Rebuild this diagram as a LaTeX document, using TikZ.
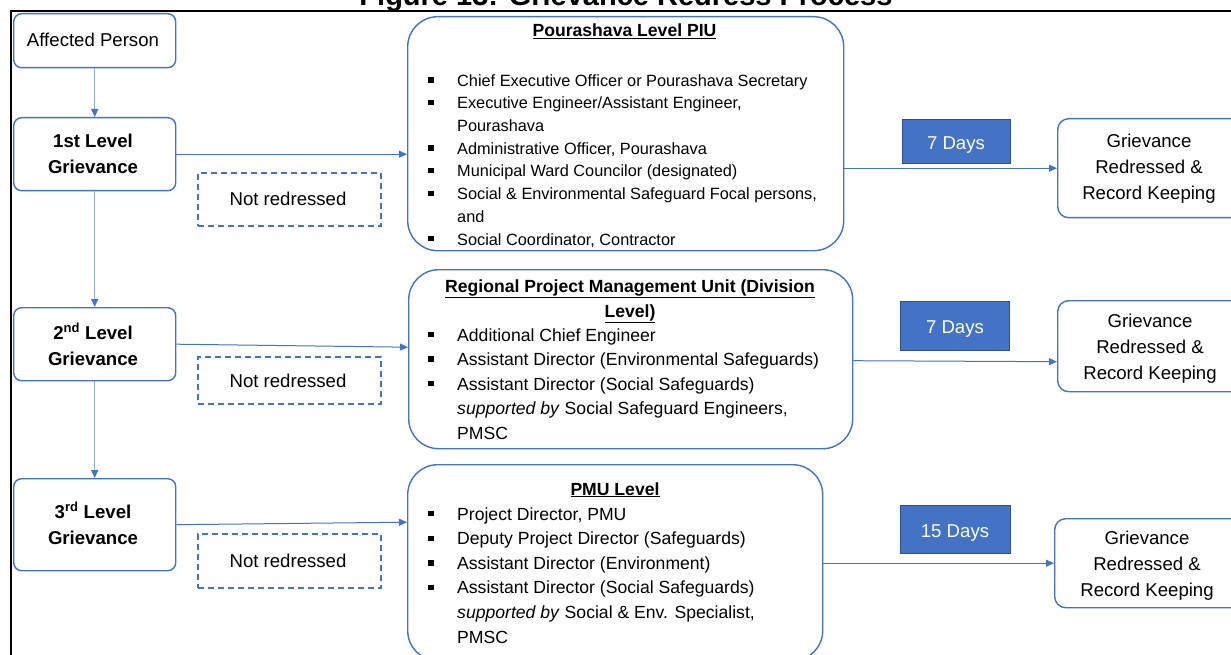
\documentclass[tikz,border=0pt]{standalone}
\usepackage{fontspec}
\setmainfont{Liberation Sans}
\usetikzlibrary{arrows.meta,calc}
\definecolor{bblue}{HTML}{4472C4}
\definecolor{lblue}{HTML}{8FAADC}
\definecolor{dblue}{HTML}{2F528F}
\newcommand\bul{\makebox[29pt][l]{\rule[3.6pt]{5.5pt}{5.5pt}}}
\newcommand\ind{\hspace*{29pt}}
\newcommand\nf{\fontsize{18.6}{26}\selectfont}
\newcommand\tf{\bfseries\fontsize{17.6}{25}\selectfont}
\begin{document}
\begin{tikzpicture}[x=1pt,y=-1pt,
  box/.style={draw=bblue, line width=1.4pt, rounded corners=8pt, inner sep=0pt, anchor=north west},
  bigbox/.style={draw=bblue, line width=1.4pt, rounded corners=30pt, inner sep=0pt, anchor=north west},
  rbox/.style={draw=bblue, line width=1.4pt, rounded corners=11pt, inner sep=0pt, anchor=north west},
  nrbox/.style={draw=bblue, line width=1.8pt, dash pattern=on 6pt off 4pt, inner sep=0pt, anchor=north west},
  daybox/.style={draw=dblue, fill=bblue, line width=0.8pt, inner sep=0pt, anchor=north west},
  txt/.style={anchor=base, inner sep=0pt, font=\nf, align=center},
  list/.style={anchor=base west, inner sep=0pt, align=left},
  vline/.style={draw=lblue, line width=1.3pt, -{Triangle[length=8pt,width=7pt,color=bblue]}},
  hline/.style={draw=bblue, line width=1pt, -{Triangle[length=8pt,width=7pt,color=bblue]}}
]
\useasboundingbox (0,0) rectangle (1231,655);
\clip (0,0) rectangle (1231,655);
\fill[white] (0,0) rectangle (1231,655);

% title (cut off at top)
\node[anchor=base, inner sep=0pt, font=\bfseries\fontsize{29}{30}\selectfont] (title) at (626,6) {Figure 13: Grievance Redress Process};
% frame
\draw[black, line width=2pt] (1231,11) -- (11,11) -- (11,660);

% left column (multi-line nodes: base = last line)
\node[box, minimum width=162pt, minimum height=54pt] (ap) at (13,13) {};
\node[txt] (apt) at (93,47) {Affected Person};
\node[box, minimum width=162pt, minimum height=73pt] (g1) at (13,117) {};
\node[txt, font=\nf\bfseries] (g1t) at (93,174) {1st Level\\Grievance};
\node[box, minimum width=162pt, minimum height=73pt] (g2) at (13,307) {};
\node[txt, font=\nf\bfseries] (g2t) at (93,365) {2\textsuperscript{nd} Level\\Grievance};
\node[box, minimum width=162pt, minimum height=92pt] (g3) at (13,478) {};
\node[txt, font=\nf\bfseries] (g3t) at (93,544) {3\textsuperscript{rd} Level\\Grievance};

% not redressed
\node[nrbox, minimum width=183pt, minimum height=53pt] (nr1) at (197,172) {};
\node[txt] (nr1t) at (288,205) {Not redressed};
\node[nrbox, minimum width=183pt, minimum height=47pt] (nr2) at (197,356) {};
\node[txt] (nr2t) at (288,387) {Not redressed};
\node[nrbox, minimum width=183pt, minimum height=54pt] (nr3) at (197,533) {};
\node[txt] (nr3t) at (288,567) {Not redressed};

% big boxes
\node[bigbox, minimum width=436pt, minimum height=234pt] (piu) at (407,16) {};
\node[txt, font=\tf] (piut) at (624.5,37) {\underline{Pourashava Level PIU}};
\node[list, font=\fontsize{16.3}{22.7}\selectfont] (piul) at (428,245) {%
\bul Chief Executive Officer or Pourashava Secretary\\
\bul Executive Engineer/Assistant Engineer,\\
\ind Pourashava\\
\bul Administrative Officer, Pourashava\\
\bul Municipal Ward Councilor (designated)\\
\bul Social \& Environmental Safeguard Focal persons,\\
\ind and\\
\bul Social Coordinator, Contractor};

\node[bigbox, minimum width=444pt, minimum height=179pt] (rpmu) at (408,269) {};
\node[txt, font=\tf] (rpmut) at (630,317) {\underline{Regional Project Management Unit (Division}\\\underline{Level)}};
\node[list, font=\fontsize{17.6}{24.5}\selectfont] (rpmul) at (428,439) {%
\bul Additional Chief Engineer\\
\bul Assistant Director (Environmental Safeguards)\\
\bul Assistant Director (Social Safeguards)\\
\ind \textit{supported by} Social Safeguard Engineers,\\
\ind PMSC};

\node[bigbox, minimum width=415pt, minimum height=196pt] (pmu) at (407,464) {};
\node[txt, font=\tf] (pmut) at (615,495) {\underline{PMU Level}};
\node[list, font=\fontsize{17.6}{24.6}\selectfont] (pmul) at (428,643) {%
\bul Project Director, PMU\\
\bul Deputy Project Director (Safeguards)\\
\bul Assistant Director (Environment)\\
\bul Assistant Director (Social Safeguards)\\
\ind \textit{supported by} Social \& Env. Specialist,\\
\ind PMSC};

% day labels
\node[daybox, minimum width=108pt, minimum height=44pt] (d1) at (902,119) {};
\node[txt, text=white] (d1t) at (956,150) {7 Days};
\node[daybox, minimum width=109pt, minimum height=49pt] (d2) at (900,301) {};
\node[txt, text=white] (d2t) at (955,333) {7 Days};
\node[daybox, minimum width=110pt, minimum height=48pt] (d3) at (900,505) {};
\node[txt, text=white] (d3t) at (955,537) {15 Days};

% right boxes
\node[rbox, minimum width=185pt, minimum height=99pt] (r1) at (1057,118) {};
\node[txt] (r1t) at (1149,200) {Grievance\\Redressed \&\\Record Keeping};
\node[rbox, minimum width=185pt, minimum height=91pt] (r2) at (1057,300) {};
\node[txt] (r2t) at (1150,379) {Grievance\\Redressed \&\\Record Keeping};
\node[rbox, minimum width=188pt, minimum height=89pt] (r3) at (1054,518) {};
\node[txt] (r3t) at (1147,596) {Grievance\\Redressed \&\\Record Keeping};

% vertical connectors
\draw[vline] (ap.south) -- (g1.north);
\draw[vline] (g1.south) -- (g2.north);
\draw[vline] (g2.south) -- (g3.north);

% horizontal connectors
\draw[hline] (g1.east) -- (g1.east -| piu.west);
\draw[hline] (g2.east) -- ($(g2.east -| rpmu.west)+(0,3)$);
\draw[hline] (g3.east) -- ($(g3.east -| pmu.west)+(0,-2.5)$);
\draw[hline] (r1.west -| piu.east) -- (r1.west);
\draw[hline] ($(r2.west -| rpmu.east)+(0,14.5)$) -- ($(r2.west)+(0,15.5)$);
\draw[hline] (r3.west -| pmu.east) -- (r3.west);
\end{tikzpicture}
\end{document}
